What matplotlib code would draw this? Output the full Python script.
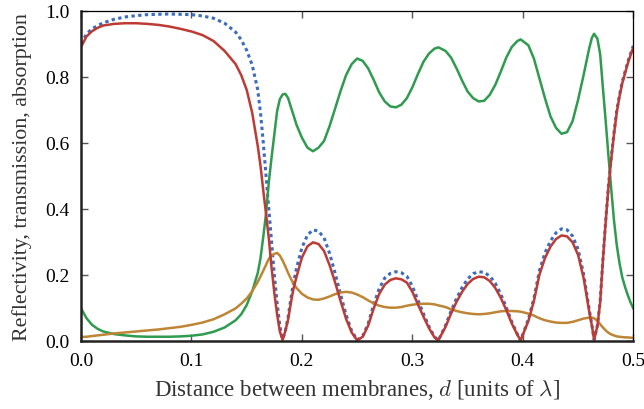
import matplotlib
matplotlib.use("Agg")
import matplotlib.pyplot as plt
from matplotlib.ticker import FormatStrFormatter

# distance between membranes (units of lambda)
d = [0, 0.005, 0.01, 0.015, 0.02, 0.03, 0.04, 0.05, 0.06, 0.07, 0.08, 0.09, 0.10,
     0.11, 0.12, 0.13, 0.14, 0.145, 0.15, 0.155, 0.16, 0.1625, 0.165, 0.1675, 0.17,
     0.1725, 0.175, 0.1775, 0.18, 0.1825, 0.185, 0.1875, 0.19, 0.1925, 0.195, 0.2,
     0.205, 0.21, 0.215, 0.22, 0.225, 0.23, 0.235, 0.24, 0.245, 0.25, 0.255, 0.26,
     0.265, 0.27, 0.275, 0.28, 0.285, 0.29, 0.295, 0.30, 0.305, 0.31, 0.315, 0.32,
     0.3235, 0.33, 0.335, 0.34, 0.345, 0.35, 0.355, 0.36, 0.365, 0.37, 0.375, 0.38,
     0.385, 0.39, 0.395, 0.398, 0.405, 0.41, 0.415, 0.42, 0.425, 0.43, 0.435, 0.44,
     0.445, 0.45, 0.455, 0.46, 0.4625, 0.4645, 0.4675, 0.47, 0.4725, 0.475, 0.4775,
     0.48, 0.4825, 0.485, 0.4875, 0.49, 0.4925, 0.495, 0.4975, 0.5]

# reflectivity without absorption (dotted)
refl_lossless = [0.900, 0.930, 0.945, 0.955, 0.963, 0.974, 0.981, 0.985, 0.988, 0.989,
                 0.990, 0.989, 0.988, 0.984, 0.977, 0.962, 0.935, 0.912, 0.880, 0.835,
                 0.760, 0.690, 0.600, 0.500, 0.400, 0.300, 0.200, 0.115, 0.045, 0.005,
                 0.030, 0.072, 0.128, 0.178, 0.218, 0.282, 0.320, 0.336, 0.332, 0.312,
                 0.265, 0.205, 0.140, 0.078, 0.030, 0.002, 0.014, 0.052, 0.110, 0.158,
                 0.190, 0.204, 0.209, 0.206, 0.195, 0.165, 0.123, 0.082, 0.043, 0.012,
                 0.001, 0.046, 0.090, 0.128, 0.161, 0.187, 0.203, 0.209, 0.207, 0.196,
                 0.174, 0.141, 0.101, 0.057, 0.020, 0.001, 0.065, 0.128, 0.212, 0.266,
                 0.302, 0.327, 0.339, 0.336, 0.317, 0.277, 0.202, 0.097, 0.048, 0.003,
                 0.046, 0.120, 0.248, 0.365, 0.470, 0.555, 0.630, 0.697, 0.745, 0.785,
                 0.815, 0.845, 0.870, 0.893]

# reflectivity
refl = [0.890, 0.922, 0.938, 0.948, 0.955, 0.960, 0.962, 0.962, 0.960, 0.957,
        0.952, 0.945, 0.937, 0.926, 0.908, 0.878, 0.838, 0.805, 0.760, 0.690,
        0.590, 0.530, 0.455, 0.385, 0.310, 0.222, 0.145, 0.080, 0.028, 0.002,
        0.030, 0.064, 0.115, 0.160, 0.192, 0.252, 0.286, 0.298, 0.293, 0.272,
        0.229, 0.177, 0.120, 0.066, 0.025, 0.001, 0.012, 0.046, 0.098, 0.142,
        0.170, 0.184, 0.189, 0.186, 0.176, 0.148, 0.110, 0.073, 0.038, 0.010,
        0.001, 0.042, 0.082, 0.118, 0.148, 0.172, 0.187, 0.194, 0.192, 0.181,
        0.160, 0.130, 0.093, 0.052, 0.018, 0.001, 0.060, 0.120, 0.200, 0.250,
        0.285, 0.308, 0.319, 0.316, 0.298, 0.260, 0.190, 0.090, 0.045, 0.003,
        0.045, 0.116, 0.245, 0.360, 0.465, 0.550, 0.625, 0.692, 0.740, 0.780,
        0.810, 0.840, 0.865, 0.889]

# transmission
trans = [0.098, 0.068, 0.048, 0.036, 0.028, 0.020, 0.016, 0.013, 0.012, 0.012,
         0.012, 0.013, 0.015, 0.019, 0.027, 0.040, 0.062, 0.080, 0.108, 0.150,
         0.205, 0.250, 0.315, 0.385, 0.480, 0.555, 0.625, 0.695, 0.732, 0.746,
         0.748, 0.735, 0.708, 0.682, 0.655, 0.615, 0.585, 0.574, 0.585, 0.605,
         0.650, 0.703, 0.757, 0.805, 0.838, 0.855, 0.848, 0.825, 0.790, 0.752,
         0.725, 0.710, 0.707, 0.715, 0.735, 0.768, 0.808, 0.845, 0.870, 0.885,
         0.889, 0.878, 0.858, 0.825, 0.788, 0.755, 0.735, 0.725, 0.727, 0.745,
         0.775, 0.815, 0.858, 0.890, 0.908, 0.913, 0.895, 0.855, 0.795, 0.735,
         0.680, 0.645, 0.627, 0.632, 0.665, 0.730, 0.805, 0.885, 0.918, 0.930,
         0.915, 0.868, 0.765, 0.665, 0.560, 0.460, 0.365, 0.290, 0.235, 0.192,
         0.163, 0.138, 0.116, 0.098]

# absorption
absorp = [0.011, 0.012, 0.014, 0.016, 0.018, 0.022, 0.025, 0.028, 0.031, 0.034,
          0.038, 0.042, 0.048, 0.055, 0.065, 0.080, 0.098, 0.112, 0.128, 0.150,
          0.178, 0.195, 0.212, 0.230, 0.248, 0.258, 0.263, 0.266, 0.258, 0.243,
          0.225, 0.205, 0.188, 0.172, 0.160, 0.142, 0.131, 0.125, 0.124, 0.128,
          0.134, 0.141, 0.146, 0.148, 0.146, 0.140, 0.132, 0.122, 0.113, 0.106,
          0.102, 0.100, 0.100, 0.102, 0.106, 0.109, 0.111, 0.112, 0.112, 0.110,
          0.107, 0.102, 0.095, 0.090, 0.086, 0.083, 0.081, 0.080, 0.081, 0.083,
          0.086, 0.089, 0.090, 0.090, 0.089, 0.088, 0.082, 0.076, 0.068, 0.062,
          0.058, 0.055, 0.054, 0.054, 0.057, 0.062, 0.067, 0.070, 0.070, 0.068,
          0.060, 0.050, 0.040, 0.031, 0.024, 0.019, 0.016, 0.013, 0.012, 0.011,
          0.010, 0.010, 0.009, 0.009]

plt.rcParams["font.family"] = ["Liberation Serif", "DejaVu Serif"]
plt.rcParams["mathtext.fontset"] = "cm"

fig = plt.figure(figsize=(6.44, 4.10), dpi=100)
ax = fig.add_axes([0.1258, 0.1666, 0.8576, 0.8049])

ax.plot(d, refl_lossless, color="#3b6cc0", lw=2.2, ls=(0, (1.1, 1.1)))
ax.plot(d, trans, color="#2f9b4f", lw=1.8)
ax.plot(d, absorp, color="#bd8535", lw=1.8)
ax.plot(d, refl, color="#be3a34", lw=1.8)

ax.set_xlim(0, 0.5)
ax.set_ylim(0, 1.0)
ax.set_xticks([0, 0.1, 0.2, 0.3, 0.4, 0.5])
ax.set_yticks([0, 0.2, 0.4, 0.6, 0.8, 1.0])
ax.xaxis.set_major_formatter(FormatStrFormatter("%.1f"))
ax.yaxis.set_major_formatter(FormatStrFormatter("%.1f"))
ax.tick_params(direction="in", top=True, right=True, length=5, width=1,
               color="#555555", labelsize=14, pad=8)

for side in ["left", "bottom"]:
    ax.spines[side].set_linewidth(1.8)
    ax.spines[side].set_color("#222222")
for side in ["top", "right"]:
    ax.spines[side].set_linewidth(0.9)

ax.set_xlabel(r"Distance between membranes, $d$ [units of $\lambda$]",
              fontsize=16.5, color="#333333", labelpad=6)
ax.set_ylabel("Reflectivity, transmission, absorption",
              fontsize=15.8, color="#333333", labelpad=10)

fig.savefig("out.png", dpi=100)
